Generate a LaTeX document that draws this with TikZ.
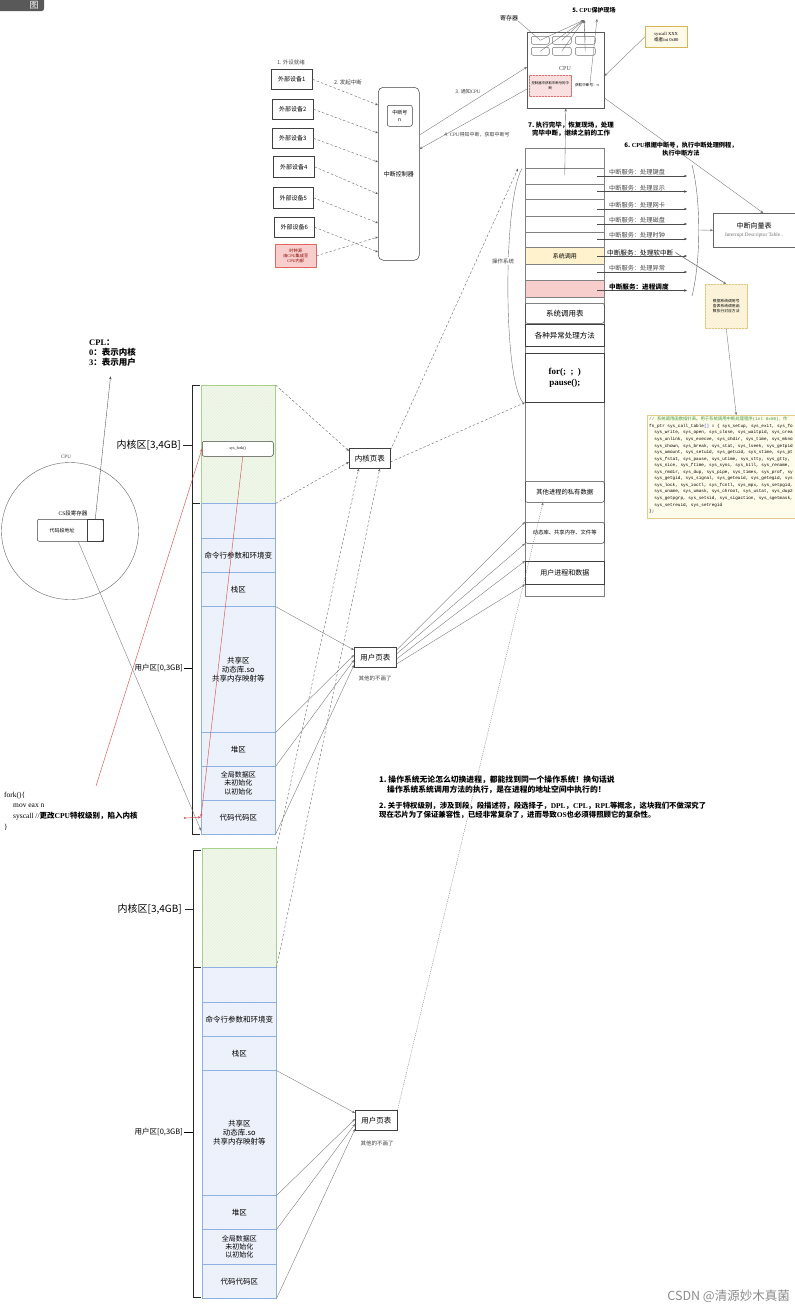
\documentclass[tikz,border=0pt]{standalone}
\usepackage{fontspec}
\setmainfont{Noto Sans CJK SC}
\newfontfamily\lat{Liberation Serif}
\newfontfamily\mon{Liberation Mono}
\usetikzlibrary{arrows.meta,calc,patterns}
\newcommand\fsz[2]{\fontsize{#1}{#2}\selectfont}
\definecolor{kfill}{HTML}{F1F8EC}
\definecolor{kdraw}{HTML}{A9D18E}
\definecolor{ufill}{HTML}{EEF3FB}
\definecolor{udraw}{HTML}{8EB0E3}
\definecolor{yfill}{HTML}{FFF2CC}
\definecolor{ydraw}{HTML}{D6B656}
\definecolor{pfill}{HTML}{F8CECC}
\definecolor{pdraw}{HTML}{E06666}
\definecolor{codebg}{HTML}{FFFCEB}
\definecolor{codegreen}{HTML}{3C9A3C}
\definecolor{redline}{HTML}{D9534F}

\begin{document}
\begin{tikzpicture}[x=1pt,y=-1pt,
  font=\fsz{6}{7.2},
  wh/.style 2 args={minimum width=#1pt,minimum height=#2pt},
  box/.style={draw=black!75,line width=0.5pt,inner sep=0pt,anchor=north west,align=center},
  rbox/.style={box,rounded corners=2pt},
  arr/.style={-{Stealth[length=3pt,width=2.4pt]}},
  sline/.style={draw=black!55,line width=0.35pt,arr},
  dline/.style={draw=black!60,line width=0.4pt,dash pattern=on 2.5pt off 2pt,arr},
  rline/.style={draw=redline,line width=0.45pt,arr},
  kern/.style={box,draw=none,fill=kfill,postaction={pattern=north east lines,pattern color=kdraw!30},postaction={draw=kdraw,line width=0.6pt}},
  usr/.style={box,draw=none,fill=ufill,postaction={pattern=north east lines,pattern color=udraw!18},postaction={draw=udraw,line width=0.6pt}},
  txt/.style={inner sep=0pt,align=center},
  bracket/.style={line width=1pt,draw=black!85},
]
\useasboundingbox (0,0) rectangle (795,1310);
\fill[white] (0,0) rectangle (795,1310);

% corner tab
\begin{scope}
  \clip (0,0) rectangle (60,12);
  \node[fill=black!65,rounded corners=3pt,wh={52}{22},anchor=north west,inner sep=0pt] (tab) at (-8,-11) {};
\end{scope}
\node[txt,text=white,font=\fsz{9}{9}] (tabtxt) at (34,5) {图};

% ---------- peripherals and interrupt controller ----------
\node[txt,text=black!70,font=\fsz{5.5}{6.5}] (ready) at (291,62) {1.\ 外设就绪};
\node[box,wh={41}{20}] (dev1) at (271,69) {外部设备1};
\node[box,wh={41}{20}] (dev2) at (272,99) {外部设备2};
\node[box,wh={41}{20}] (dev3) at (272,128) {外部设备3};
\node[box,wh={41}{21}] (dev4) at (273,156) {外部设备4};
\node[box,wh={40}{21}] (dev5) at (273,187) {外部设备5};
\node[box,wh={40}{20}] (dev6) at (274,217) {外部设备6};
\node[box,wh={41}{23},draw=pdraw,fill=pfill,text=red!55!black,font=\fsz{4.2}{5}] (clk) at (275,244) {时钟源\\由{\lat CPU}集成至\\{\lat CPU}内部};
\node[box,rounded corners=5pt,wh={41}{173}] (ctrl) at (378,87) {中断控制器};
\node[rbox,wh={25}{21},font=\fsz{5}{6.5}] (irq) at (387,105) {中断号\\n};

\draw[dline] (dev1.east) -- (ctrl.west |- 0,105);
\draw[dline] (dev2.east) -- (ctrl.west |- 0,133);
\draw[dline] (dev3.east) -- (ctrl.west |- 0,162);
\draw[dline] (dev4.east) -- (ctrl.west |- 0,194);
\draw[dline] (dev5.east) -- (ctrl.west |- 0,223);
\draw[dline] (dev6.east) -- (ctrl.west |- 0,252);
\draw[dline] (clk.east) -- (ctrl.west |- 0,237);
\node[txt,font=\fsz{5.5}{6.5},text=black!75] (lbl2) at (348,82) {2.\ 发起中断};

% ---------- CPU ----------
\node[box,wh={77}{76},draw=black!65] (cpu) at (527,32) {};
\node[txt,font=\fsz{6}{7},text=black!70] (cpulbl) at (565,69) {\lat CPU};
\foreach \n/\x/\y/\w in {1/531/36/18,2/552/36/19,3/575/36/20,4/531/47/18,5/552/47/19,6/575/47/20}
  \node[rbox,wh={\w}{8},draw=black!55] (reg\n) at (\x,\y) {};
\node[box,wh={42}{21},draw=pdraw,fill=pfill!55,font=\fsz{3.4}{4.2},postaction={pattern=north east lines,pattern color=pdraw!25}] (getirq) at (529,75) {控制器中获取中断号的中\\断};
\node[txt,font=\fsz{3.6}{4.2}] (irqn) at (587,85) {获取中断号：n};

\node[txt,font=\bfseries\fsz{6}{7}] (savelbl) at (594,10) {5.\ {\lat CPU}保护现场};
\node[txt,font=\fsz{6}{7}] (reglbl) at (509,18) {寄存器};
\coordinate (save) at (584,20);
\coordinate (savetop) at (597,19);
\foreach \n in {1,...,6} \draw[sline] (reg\n.center) -- (save);
\draw[black!55,line width=0.35pt] (reglbl.south east) -- (reg1.center);
\draw[sline] ([xshift=3pt]irqn.north) -- (savetop);

\node[box,wh={42}{21},draw=ydraw,fill=yfill!45,font=\fsz{4.6}{5.8}] (sysc) at (645,26) {{\lat syscall XXX}\\或者{\lat int 0x80}};
\draw[sline] (sysc.west) -- (cpu.east |- 0,76);

\draw[sline] (ctrl.east |- 0,135) -- (cpu.west |- 0,67);
\draw[sline] (cpu.west |- 0,89) -- (ctrl.east |- 0,149);
\node[txt,font=\fsz{5}{6},text=black!75] (lbl3) at (468,92) {3.\ 通知{\lat CPU}};
\node[txt,font=\fsz{5}{6},text=black!75] (lbl4) at (477,135) {4.\ {\lat CPU}得知中断，获取中断号};

\node[txt,font=\bfseries\fsz{6.5}{8.5}] (lbl7) at (571,129) {7.\ 执行完毕，恢复现场，处理\\完毕中断，继续之前的工作};
\node[txt,font=\bfseries\fsz{6.2}{8}] (lbl6) at (681,149) {6.\ {\lat CPU}根据中断号，执行中断处理例程，\\执行中断方法};

% ---------- kernel memory column ----------
\node[box,wh={79}{448},draw=black!50] (oscol) at (525,148) {};
\foreach \n/\y/\h in {1/148/20,2/168/16,3/184/15,4/199/17,5/216/16,6/232/15,8/264/16}
  \node[box,wh={79}{\h},draw=black!50] (row\n) at (525,\y) {};
\node[box,wh={79}{17},draw=black!50,fill=yfill,font=\fsz{6}{7}] (row7) at (525,247) {系统调用};
\node[box,wh={79}{17},draw=black!50,fill=pfill] (row9) at (525,280) {};
\node[rbox,wh={79}{20},font=\fsz{7.5}{9}] (sctab) at (525,303) {系统调用表};
\node[box,wh={79}{22},font=\fsz{7.5}{9}] (exc) at (525,324) {各种异常处理方法};
\node[box,wh={79}{49},font=\lat\bfseries\fsz{9}{11}] (forbox) at (525,353) {for(;\ \ ;\ \ )\\pause();};
\node[rbox,wh={79}{21},font=\fsz{6.3}{7.5}] (priv) at (525,481) {其他进程的私有数据};
\node[rbox,wh={79}{21},font=\fsz{5.3}{6.5}] (dyn) at (525,522) {动态库、共享内存、文件等};
\node[box,wh={79}{23},font=\fsz{7}{8.5}] (upd) at (525,561) {用户进程和数据};

\draw[sline,draw=black!60] (oscol.south |- 0,175) -- (cpu.south);

% interrupt services
\foreach \n/\y/\t in {1/176/处理键盘,2/191.5/处理显示,3/209/处理网卡,4/224/处理磁盘,5/239/处理时钟,7/272/处理异常}{
  \node[txt,anchor=west,font=\fsz{6.2}{7},text=black!72] (svc\n) at (609,\y-3.5) {中断服务：\t};
  \coordinate (svcst\n) at (597,\y);
  \coordinate (svcend\n) at (687,\y);
  \draw[sline,draw=black!70] (svcst\n) -- (svcend\n);
}
\node[txt,anchor=west,font=\fsz{6.6}{7.5}] (svc6) at (607,252.5) {中断服务：处理软中断};
\coordinate (svcst6) at (597,256);
\coordinate (svcend6) at (687,256);
\draw[sline,draw=black!70] (svcst6) -- (svcend6);
\node[txt,anchor=west,font=\bfseries\fsz{6.6}{7.5}] (svc8) at (609,287) {中断服务：进程调度};
\coordinate (svcst8) at (597,290.5);
\coordinate (svcend8) at (687,290.5);
\draw[sline,draw=black!70] (svcst8) -- (svcend8);

\draw[black!60,line width=0.4pt] (692,165) .. controls (701,200) and (701,260) .. (692,296);
\coordinate (brmid) at (698,230);
\begin{scope}
  \clip (700,200) rectangle (795,260);
  \node[box,wh={84}{34},draw=black!60] (idt) at (713,213) {};
\end{scope}
\node[txt,font=\fsz{7}{8}] (idtt) at (754,226) {中断向量表};
\node[txt,font=\lat\fsz{5.3}{6},text=black!55] (idts) at (754,235.5) {Interrupt Descriptor Table..};
\draw[sline] (brmid) -- (idt.west);
\draw[sline] (cpu.east |- 0,98) -- ([xshift=8pt]idt.north);

\node[box,wh={42}{44},draw=ydraw!80,fill=yfill!70,font=\fsz{3.8}{4.8},postaction={pattern=north east lines,pattern color=ydraw!25}] (note) at (705,284) {根据系统调用号\\查表系统调用函\\数执行对应方法};
\draw[sline,line width=0.6pt] ([xshift=2pt]svc6.east) -- (note.north);

% system call table source (runs off the right edge)
\begin{scope}
  \clip (640,410) rectangle (795,522);
  \node[box,wh={160}{103},draw=ydraw!70,fill=codebg] (code) at (647,415) {};
\end{scope}
\node[anchor=north west,inner sep=0pt,align=left,font=\mon\fsz{4.35}{6.55}] (codetxt) at (649,417) {%
{\color{codegreen}// {\rmfamily 系统调用函数指针表。用于系统调用中断处理程序}(int 0x80){\rmfamily ，作}}\\
fn\_ptr sys\_call\_table{\color{blue!70}[]} = \{ sys\_setup, sys\_exit, sys\_fo\\
\ \ sys\_write, sys\_open, sys\_close, sys\_waitpid, sys\_crea\\
\ \ sys\_unlink, sys\_execve, sys\_chdir, sys\_time, sys\_mkno\\
\ \ sys\_chown, sys\_break, sys\_stat, sys\_lseek, sys\_getpid\\
\ \ sys\_umount, sys\_setuid, sys\_getuid, sys\_stime, sys\_pt\\
\ \ sys\_fstat, sys\_pause, sys\_utime, sys\_stty, sys\_gtty,\\
\ \ sys\_nice, sys\_ftime, sys\_sync, sys\_kill, sys\_rename,\\
\ \ sys\_rmdir, sys\_dup, sys\_pipe, sys\_times, sys\_prof, sy\\
\ \ sys\_getgid, sys\_signal, sys\_geteuid, sys\_getegid, sys\\
\ \ sys\_lock, sys\_ioctl, sys\_fcntl, sys\_mpx, sys\_setpgid,\\
\ \ sys\_uname, sys\_umask, sys\_chroot, sys\_ustat, sys\_dup2\\
\ \ sys\_getpgrp, sys\_setsid, sys\_sigaction, sys\_sgetmask,\\
\ \ sys\_setreuid, sys\_setregid\\
\};};
\draw[sline] (note.south) -- ([xshift=9pt]code.north);

% brace marking the operating system part of the column
\draw[black!55,line width=0.4pt] ([xshift=-3pt]row1.south west) .. controls (503,200) and (503,380) .. ([xshift=-2pt]forbox.south west);
\node[txt,fill=white,inner sep=1pt,font=\fsz{5.5}{6.5},text=black!75] (oslbl) at (503,261) {操作系统};

% ---------- CPU with CS register ----------
\node[circle,draw=black!60,minimum size=137pt,inner sep=0pt] (cpuc) at (70,531) {};
\node[txt,font=\fsz{5}{6},text=black!70] (cpuclbl) at (66,457) {\lat CPU};
\node[txt,font=\fsz{5.5}{6.5}] (cslbl) at (73,513) {{\lat CS}段寄存器};
\node[box,rounded corners=2pt,wh={66}{22}] (cs) at (37,519) {};
\node[box,wh={16}{22}] (csr) at (87,519) {};
\node[txt,font=\fsz{5}{6}] (csaddr) at (62,531) {代码段地址};

\node[txt,anchor=west,font=\bfseries\fsz{8.5}{9.5}] (cpl1) at (89,343) {{\lat CPL}：};
\node[txt,anchor=west,font=\bfseries\fsz{8.5}{9.5}] (cpl2) at (89,352.5) {{\lat 0}：表示内核};
\node[txt,anchor=west,font=\bfseries\fsz{8.5}{9.5}] (cpl3) at (89,362) {{\lat 3}：表示用户};
\draw[sline,draw=black!70] (csr.north) -- ([xshift=-2pt,yshift=-10pt]cpl3.south);

% ---------- process address space (upper) ----------
\node[kern,wh={74}{118}] (k1) at (201,385) {};
\node[rbox,wh={71}{15},fill=white,font=\lat\fsz{4}{5}] (sysfork) at (202,441) {sys\_fork()};
\node[usr,wh={74}{35}] (u0) at (201,503) {};
\node[usr,wh={74}{34},font=\fsz{7.5}{9}] (u1) at (201,538) {命令行参数和环境变};
\node[usr,wh={74}{34},font=\fsz{7.5}{9}] (u2) at (201,572) {栈区};
\node[usr,wh={74}{126},font=\fsz{7.5}{9}] (u3) at (201,606) {共享区\\动态库.so\\共享内存映射等};
\node[usr,wh={74}{34},font=\fsz{7.5}{9}] (u4) at (201,732) {堆区};
\node[usr,wh={74}{34},font=\fsz{7}{8.3}] (u5) at (201,766) {全局数据区\\未初始化\\以初始化};
\node[usr,wh={74}{34},font=\fsz{7.5}{9}] (u6) at (201,800) {代码代码区};

\draw[bracket] (200,385) -- (192,385) -- (192,834) -- (200,834);
\draw[bracket] (192,503) -- (200,503);
\draw[bracket] (183,445) -- (192,445);
\draw[line width=0.6pt] (184,668) -- (192,668);
\node[txt,anchor=east,font=\fsz{10}{11}] (klbl1) at (181,445) {内核区[3,4GB]};
\node[txt,anchor=east,font=\fsz{7.5}{9}] (ulbl1) at (183,668) {用户区[0,3GB]};

% ---------- process address space (lower) ----------
\node[kern,wh={74}{119}] (k2) at (202,848) {};
\node[usr,wh={74}{35}] (v0) at (202,967) {};
\node[usr,wh={74}{34},font=\fsz{7.5}{9}] (v1) at (202,1002) {命令行参数和环境变};
\node[usr,wh={74}{34},font=\fsz{7.5}{9}] (v2) at (202,1036) {栈区};
\node[usr,wh={74}{125},font=\fsz{7.5}{9}] (v3) at (202,1070) {共享区\\动态库.so\\共享内存映射等};
\node[usr,wh={74}{34},font=\fsz{7.5}{9}] (v4) at (202,1195) {堆区};
\node[usr,wh={74}{35},font=\fsz{7}{8.3}] (v5) at (202,1229) {全局数据区\\未初始化\\以初始化};
\node[usr,wh={74}{34},font=\fsz{7.5}{9}] (v6) at (202,1264) {代码代码区};

\draw[bracket] (201,850) -- (193,850) -- (193,1297) -- (201,1297);
\draw[bracket] (193,967) -- (201,967);
\draw[bracket] (185,909) -- (193,909);
\draw[line width=0.6pt] (184,1132) -- (193,1132);
\node[txt,anchor=east,font=\fsz{10}{11}] (klbl2) at (182,909) {内核区[3,4GB]};
\node[txt,anchor=east,font=\fsz{7.5}{9}] (ulbl2) at (183,1132) {用户区[0,3GB]};

% ---------- page tables ----------
\node[box,wh={41}{20},font=\fsz{7.5}{9}] (kpt) at (349,448) {内核页表};
\draw[dline] (k1.north east) -- (kpt.west |- 0,451);
\draw[dline] (k1.south east) -- (kpt.west |- 0,462);
\draw[dline] (kpt.east |- 0,462) -- (forbox.south west);
\draw[dline] (kpt.east |- 0,450) -- ([xshift=-7pt]row1.south west);
\draw[dline] (k2.north east) -- ([xshift=-11pt]kpt.south);
\draw[dline] (k2.south east) -- ([xshift=10pt]kpt.south);

\node[box,wh={42}{20},font=\fsz{7.5}{9}] (upt1) at (354,647) {用户页表};
\node[txt,font=\fsz{5.5}{6.5},text=black!75] (other1) at (375,678) {其他的不画了};
\draw[sline] (u2.south east) -- (upt1.west |- 0,650);
\draw[sline] (u3.south east) -- (upt1.west |- 0,655);
\draw[sline] (u4.south east) -- (upt1.west |- 0,660);
\draw[sline] (u6.south east) -- (upt1.west |- 0,665);
\draw[sline] (upt1.east |- 0,650) -- (dyn.north west);
\draw[sline] (upt1.east |- 0,654) -- (dyn.south west);
\draw[sline] (upt1.east |- 0,659) -- (upd.north west);
\draw[sline] (upt1.east |- 0,664) -- (upd.south west);

\node[box,wh={42}{20},font=\fsz{7.5}{9}] (upt2) at (355,1110) {用户页表};
\node[txt,font=\fsz{5.5}{6.5},text=black!75] (other2) at (377,1143) {其他的不画了};
\draw[sline] (v2.south east) -- (upt2.west |- 0,1113);
\draw[sline] (v3.south east) -- (upt2.west |- 0,1119);
\draw[sline] (v4.south east) -- (upt2.west |- 0,1124);
\draw[sline] (v6.south east) -- (upt2.west |- 0,1129);
\draw[sline,dash pattern=on 1pt off 1pt] (upt2.north east) -- ([xshift=18pt]priv.south west);

% ---------- fork / syscall path ----------
\node[txt,anchor=west,font=\lat\fsz{7.5}{9}] (fork1) at (4,796) {fork()\{};
\node[txt,anchor=west,font=\lat\fsz{7.5}{9}] (fork2) at (13,806) {mov eax n};
\node[txt,anchor=west,font=\fsz{7.5}{9}] (fork3) at (13,816) {{\lat syscall //}\textbf{更改{\lat CPU}特权级别，陷入内核}};
\node[txt,anchor=west,font=\lat\fsz{7.5}{9}] (fork4) at (4,827) {\}};

\coordinate (redst) at (96,786);
\coordinate (redmk) at (184,818);
\draw[rline] (redst) -- (sysfork.west);
\draw[rline] ([xshift=5pt]sysfork.south) -- (u6.west);
\draw[rline,{Circle[length=1.8pt]}-{Stealth[length=3pt,width=2.4pt]}] (redmk) -- (u6.west);
\draw[sline] ([xshift=8pt]cs.south) -- ([yshift=4pt]u6.south west);

% ---------- notes ----------
\node[txt,anchor=west,font=\bfseries\fsz{7.8}{9}] (n1a) at (379,779.5) {1.\ 操作系统无论怎么切换进程，都能找到同一个操作系统！换句话说};
\node[txt,anchor=west,font=\bfseries\fsz{7.8}{9}] (n1b) at (387,790) {操作系统系统调用方法的执行，是在进程的地址空间中执行的！};
\node[txt,anchor=west,font=\bfseries\fsz{7.4}{9}] (n2a) at (379,805.5) {2.\ 关于特权级别，涉及到段，段描述符，段选择子，{\lat DPL}，{\lat CPL}，{\lat RPL}等概念，这块我们不做深究了};
\node[txt,anchor=west,font=\bfseries\fsz{7.4}{9}] (n2b) at (379,814.5) {现在芯片为了保证兼容性，已经非常复杂了，进而导致{\lat OS}也必须得照顾它的复杂性。};

\node[txt,anchor=east,font=\fsz{12.5}{13},text=black!45] (wm) at (790,1296) {CSDN @清源妙木真菌};
\end{tikzpicture}
\end{document}
